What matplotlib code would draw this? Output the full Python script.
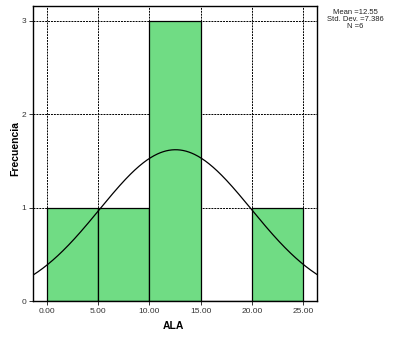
import numpy as np
import matplotlib
matplotlib.use("Agg")
import matplotlib.pyplot as plt

plt.rcParams['font.family'] = ['Liberation Sans', 'DejaVu Sans']

bin_edges = [0.0, 5.0, 10.0, 15.0, 20.0, 25.0]
counts = [1, 1, 3, 0, 1]
mean_val = 12.55
std_val = 7.386
n_val = 6
xticks = [0.0, 5.0, 10.0, 15.0, 20.0, 25.0]
xtick_labels = ["0.00", "5.00", "10.00", "15.00", "20.00", "25.00"]
yticks = [0, 1, 2, 3]

fig = plt.figure(figsize=(3.98, 3.37), dpi=100)
ax = fig.add_axes([33/398, 1 - 301/337, (317-33)/398, (301-6)/337])

ax.set_xlim(-1.33, 26.33)
ax.set_ylim(0, 3.16)

ax.set_axisbelow(True)
ax.grid(True, color='black', linestyle=(0, (2, 1)), linewidth=0.7)

widths = np.diff(bin_edges)
ax.bar(bin_edges[:-1], counts, width=widths, align='edge', color='#70DC84',
       edgecolor='black', linewidth=0.9, zorder=2)

xs = np.linspace(-1.33, 26.33, 400)
binw = bin_edges[1] - bin_edges[0]
ys = n_val * binw / (std_val * np.sqrt(2*np.pi)) * np.exp(-0.5*((xs-mean_val)/std_val)**2)
ax.plot(xs, ys, color='black', linewidth=0.9, zorder=3)

ax.set_xticks(xticks)
ax.set_xticklabels(xtick_labels)
ax.set_yticks(yticks)
ax.tick_params(labelsize=6, length=3, width=0.7, pad=2, colors='#333333', labelcolor='#333333')
for s in ax.spines.values():
    s.set_linewidth(1.0)

ax.set_xlabel("ALA", fontsize=7.5, fontweight='bold')
ax.set_ylabel("Frecuencia", fontsize=7.5, fontweight='bold')
ax.xaxis.set_label_coords((173-33)/(317-33), -(326-301)/(301-6), transform=ax.transAxes)
ax.yaxis.set_label_coords(-(33-15)/(317-33), (301-148)/(301-6), transform=ax.transAxes)
ax.xaxis.label.set_va('center')
ax.yaxis.label.set_va('center')

fig.text(355/398, 1 - 9/337, "Mean =12.55\nStd. Dev. =7.386\nN =6", ha='center', va='top',
         fontsize=5.5, linespacing=1.0, color='#222222')

fig.savefig("out.png", dpi=100)
